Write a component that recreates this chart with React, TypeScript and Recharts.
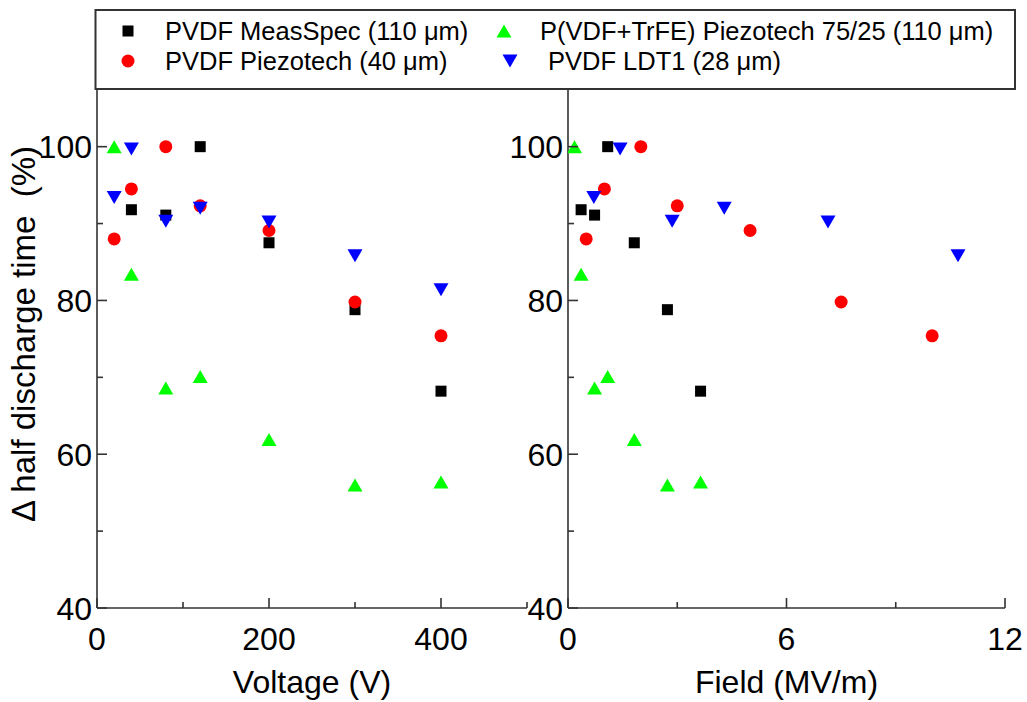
import { ScatterChart, Scatter, XAxis, YAxis, Label } from 'recharts';

const measSpecVoltage = [40, 80, 120, 200, 300, 400];
const measSpecField = [0.36, 0.73, 1.09, 1.82, 2.73, 3.64];
const measSpecValue = [91.8, 91.1, 100, 87.5, 78.8, 68.2];

const piezotechVoltage = [20, 40, 80, 120, 200, 300, 400];
const piezotechField = [0.5, 1.0, 2.0, 3.0, 5.0, 7.5, 10.0];
const piezotechValue = [88.0, 94.5, 100, 92.3, 89.1, 79.8, 75.4];

const trfeVoltage = [20, 40, 80, 120, 200, 300, 400];
const trfeField = [0.18, 0.36, 0.73, 1.09, 1.82, 2.73, 3.64];
const trfeValue = [100, 83.4, 68.6, 70.1, 61.9, 56.0, 56.4];

const ldtVoltage = [20, 40, 80, 120, 200, 300, 400];
const ldtField = [0.71, 1.43, 2.86, 4.29, 7.14, 10.71];
const ldtValue = [93.4, 99.7, 90.3, 92.0, 90.2, 85.8, 81.4];

const voltageTicks = [0, 100, 200, 300, 400, 500];
const voltageLabels = [0, 200, 400];
const fieldTicks = [0, 3, 6, 9, 12];
const fieldLabels = [0, 6, 12];
const percentTicks = [40, 50, 60, 70, 80, 90, 100];
const percentLabels = [40, 60, 80, 100];

const AXIS = '#333';
const FONT = '"Liberation Sans", Arial, sans-serif';

type Kind = 'square' | 'circle' | 'triangle' | 'down';

const series: { name: string; color: string; kind: Kind }[] = [
  { name: 'PVDF MeasSpec (110 \u03bcm)', color: '#000000', kind: 'square' },
  { name: 'PVDF Piezotech (40 \u03bcm)', color: '#ff0000', kind: 'circle' },
  { name: 'P(VDF+TrFE) Piezotech 75/25 (110 \u03bcm)', color: '#00ff00', kind: 'triangle' },
  { name: 'PVDF LDT1 (28 \u03bcm)', color: '#0000ff', kind: 'down' },
];

const zip = (xs: number[], ys: number[]) => xs.map((x, i) => ({ x, y: ys[i] }));

const voltageData = [
  zip(measSpecVoltage, measSpecValue),
  zip(piezotechVoltage, piezotechValue),
  zip(trfeVoltage, trfeValue),
  zip(ldtVoltage, ldtValue),
];
const fieldData = [
  zip(measSpecField, measSpecValue),
  zip(piezotechField, piezotechValue),
  zip(trfeField, trfeValue),
  zip(ldtField, ldtValue),
];

function marker(kind: Kind, color: string, cx: number, cy: number) {
  if (kind === 'square') return <rect x={cx - 5.5} y={cy - 5.5} width={11} height={11} fill={color} />;
  if (kind === 'circle') return <circle cx={cx} cy={cy} r={6.5} fill={color} />;
  if (kind === 'triangle')
    return <polygon points={`${cx - 7.5},${cy + 6.5} ${cx + 7.5},${cy + 6.5} ${cx},${cy - 6.5}`} fill={color} />;
  return <polygon points={`${cx - 7.5},${cy - 6.5} ${cx + 7.5},${cy - 6.5} ${cx},${cy + 6.5}`} fill={color} />;
}

const YTick = (labels: number[]) => (p: any) => {
  const major = labels.includes(p.payload.value);
  return (
    <g>
      <line x1={p.x} x2={p.x + (major ? 10 : 6)} y1={p.y} y2={p.y} stroke={AXIS} strokeWidth={1.6} />
      {major && (
        <text x={p.x - 5} y={p.y + 11.5} textAnchor="end" fontSize={32} fontFamily={FONT} fill="#000">
          {p.payload.value}
        </text>
      )}
    </g>
  );
};

const XTick = (labels: number[]) => (p: any) => {
  const major = labels.includes(p.payload.value);
  return (
    <g>
      <line x1={p.x} x2={p.x} y1={p.y} y2={p.y - (major ? 10 : 6)} stroke={AXIS} strokeWidth={1.6} />
      {major && (
        <text x={p.x} y={p.y + 42} textAnchor="middle" fontSize={32} fontFamily={FONT} fill="#000">
          {p.payload.value}
        </text>
      )}
    </g>
  );
};

const xTitle = (title: string) => (p: any) => {
  const vb = p.viewBox;
  return (
    <text x={vb.x + vb.width / 2} y={vb.y + 85} textAnchor="middle" fontSize={32} fontFamily={FONT} fill="#000">
      {title}
    </text>
  );
};

function Panel({
  data, domain, ticks, labels, title, width, margin, showYTitle,
}: {
  data: { x: number; y: number }[][];
  domain: [number, number];
  ticks: number[];
  labels: number[];
  title: string;
  width: number;
  margin: { top: number; right: number; bottom: number; left: number };
  showYTitle?: boolean;
}) {
  return (
    <ScatterChart width={width} height={702} margin={margin}>
      <XAxis
        type="number"
        dataKey="x"
        domain={domain}
        ticks={ticks}
        interval={0}
        allowDataOverflow
        height={50}
        tickSize={0}
        tickMargin={0}
        tickLine={false}
        axisLine={{ stroke: AXIS, strokeWidth: 1.6 }}
        tick={XTick(labels)}
      >
        <Label content={xTitle(title)} />
      </XAxis>
      <YAxis
        type="number"
        dataKey="y"
        domain={[40, 107.5]}
        ticks={percentTicks}
        interval={0}
        allowDataOverflow
        width={60}
        tickSize={0}
        tickMargin={0}
        tickLine={false}
        axisLine={{ stroke: AXIS, strokeWidth: 1.6 }}
        tick={YTick(percentLabels)}
      >
        {showYTitle && (
          <Label
            content={() => (
              <text
                x={35}
                y={334}
                transform="rotate(-90 35 334)"
                textAnchor="middle"
                fontSize={33}
                fontFamily={FONT}
                fill="#000"
              >
                {'\u0394 half discharge time\u00a0 (%)'}
              </text>
            )}
          />
        )}
      </YAxis>
      {series.map((s, i) => (
        <Scatter
          key={s.name}
          name={s.name}
          data={data[i]}
          fill={s.color}
          isAnimationActive={false}
          shape={(p: any) => marker(s.kind, s.color, p.cx, p.cy)}
        />
      ))}
    </ScatterChart>
  );
}

function LegendBox() {
  const rows = [
    { s: series[0], x: 128, tx: 165, y: 31 },
    { s: series[1], x: 128, tx: 165, y: 61 },
    { s: series[2], x: 504, tx: 540, y: 31 },
    { s: series[3], x: 510, tx: 548, y: 61 },
  ];
  return (
    <svg width={1027} height={100} style={{ position: 'absolute', left: 0, top: 0 }}>
      <rect x={95.5} y={10} width={919.5} height={79} fill="#fff" stroke={AXIS} strokeWidth={2} />
      {rows.map(({ s, x, tx, y }) => (
        <g key={s.name}>
          {marker(s.kind, s.color, x, y)}
          <text x={tx} y={y + 9} fontSize={25.5} fontFamily={FONT} fill="#000">
            {s.name}
          </text>
        </g>
      ))}
    </svg>
  );
}

export default function App() {
  return (
    <div style={{ position: 'absolute', left: 0, top: 0, width: 1027, height: 702, background: '#fff', fontFamily: FONT }}>
      <div style={{ position: 'absolute', left: 0, top: 0 }}>
        <Panel
          data={voltageData}
          domain={[0, 500]}
          ticks={voltageTicks}
          labels={voltageLabels}
          title="Voltage (V)"
          width={540}
          margin={{ top: 89, right: 13, bottom: 44, left: 37 }}
          showYTitle
        />
      </div>
      <div style={{ position: 'absolute', left: 500, top: 0 }}>
        <Panel
          data={fieldData}
          domain={[0, 12]}
          ticks={fieldTicks}
          labels={fieldLabels}
          title="Field (MV/m)"
          width={527}
          margin={{ top: 89, right: 22, bottom: 44, left: 8 }}
        />
      </div>
      <LegendBox />
    </div>
  );
}
